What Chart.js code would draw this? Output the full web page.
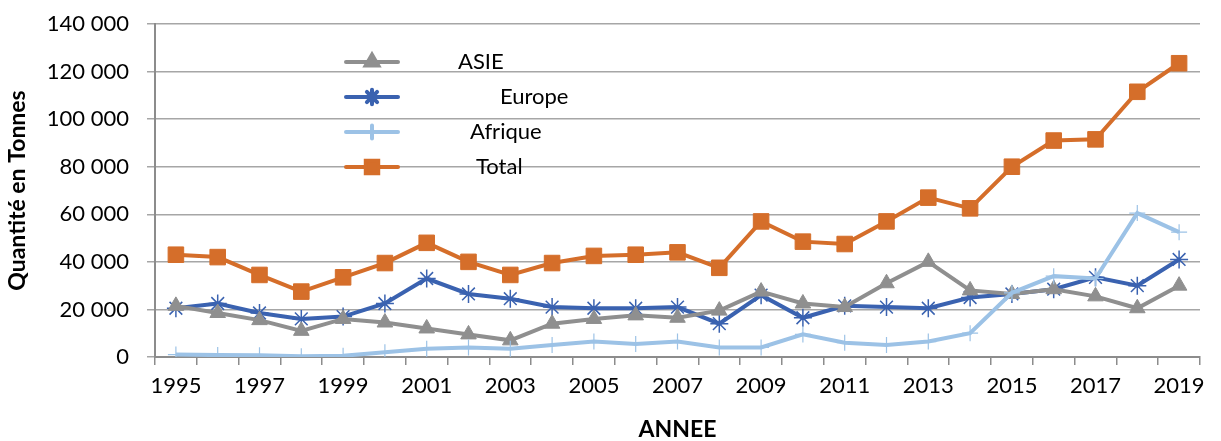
<!DOCTYPE html>
<html><head><meta charset="utf-8">
<script src="https://cdn.jsdelivr.net/npm/chart.js@4"></script>
<style>html,body{margin:0;padding:0;background:#fff}#w{width:1221px;height:441px;position:relative}</style>
</head><body><div id="w"><canvas id="c"></canvas></div>
<script>
const years = ['1995','1996','1997','1998','1999','2000','2001','2002','2003','2004','2005','2006','2007','2008','2009','2010','2011','2012','2013','2014','2015','2016','2017','2018','2019'];
const asie = [21500,18500,15500,11000,16000,14500,12000,9500,7000,14000,16000,17500,16500,19500,27500,22500,21000,31000,40000,28000,26500,28500,25500,20500,30000];
const europe = [20500,22500,18500,16000,17000,22500,33000,26500,24500,21000,20500,20500,21000,14000,26000,16500,21500,21000,20500,25000,26500,28500,33500,30000,41000];
const afrique = [1000,800,700,300,500,2000,3500,4000,3500,5000,6500,5500,6500,4000,4000,9500,6000,5000,6500,10000,27000,34000,33000,60500,52500];
const total = [43000,42000,34500,27500,33500,39500,48000,40000,34500,39500,42500,43000,44000,37500,57000,48500,47500,57000,67000,62500,80000,91000,91500,111500,123500];
const seriesNames = ['ASIE','Europe','Afrique','Total'];
const yTicks = [0,20000,40000,60000,80000,100000,120000,140000];

const FONT = 'Lato, "Open Sans", sans-serif';
const styles = [
  {color:'#8f8f8f', pointStyle:'triangle', radius:9, pbw:1},
  {color:'#3a62b0', pointStyle:'star', radius:9, pbw:1.5},
  {color:'#9cc2e6', pointStyle:'cross', radius:8, pbw:1.2},
  {color:'#d56e2a', pointStyle:'rect', radius:11, pbw:1}
];
const legendTextX = [458, 500, 470, 476];
const legendY = [62, 97, 132, 167];

const legendPlugin = {
  id:'customLegend',
  afterDraw(chart){
    const ctx = chart.ctx;
    ctx.save();
    chart.data.datasets.forEach((ds,i)=>{
      const y = legendY[i];
      ctx.strokeStyle = ds.borderColor;
      ctx.lineWidth = 4;
      ctx.lineCap = 'round';
      ctx.beginPath(); ctx.moveTo(346,y); ctx.lineTo(398,y); ctx.stroke();
      const st = styles[i];
      ctx.fillStyle = ds.borderColor; ctx.strokeStyle = ds.borderColor;
      Chart.helpers.drawPoint(ctx, {pointStyle:st.pointStyle, radius:st.radius*0.8, borderWidth:st.pbw, rotation:0}, 372, y);
      ctx.fillStyle = '#000';
      ctx.font = '22px ' + FONT;
      ctx.textBaseline = 'middle';
      ctx.textAlign = 'left';
      ctx.fillText(ds.label, legendTextX[i], y);
    });
    ctx.restore();
  }
};

const data = {
  labels: years,
  datasets: [asie, europe, afrique, total].map((d,i)=>({
    label: seriesNames[i],
    data: d,
    borderColor: styles[i].color,
    backgroundColor: styles[i].color,
    pointBackgroundColor: styles[i].color,
    pointBorderColor: styles[i].color,
    pointStyle: styles[i].pointStyle,
    pointRadius: styles[i].radius,
    pointBorderWidth: styles[i].pbw,
    borderWidth: 4,
    tension: 0,
    order: [2,3,1,0][i]
  }))
};

new Chart(document.getElementById('c'), {
  type:'line',
  data,
  plugins:[legendPlugin],
  options:{
    responsive:true, maintainAspectRatio:false, animation:false,
    layout:{padding:{top:24,right:21,left:0,bottom:0}},
    plugins:{legend:{display:false}, tooltip:{enabled:false}},
    scales:{
      x:{
        offset:true,
        grid:{offset:true, drawOnChartArea:false, drawTicks:true, tickLength:8, color:'#8c8c8c', lineWidth:1.5},
        border:{display:true, color:'#8c8c8c', width:2},
        ticks:{autoSkip:false, maxRotation:0, padding:8, color:'#000', font:{family:FONT, size:22},
          callback:function(v,i){return i%2===0 ? years[i] : '';}},
        title:{display:true, text:'ANNEE', color:'#000', font:{family:FONT, size:23, weight:'bold', lineHeight:1}, padding:{top:0,bottom:0}},
        afterFit(s){s.height = 84; s.paddingLeft = 0; s.paddingRight = 0;}
      },
      y:{
        min:0, max:140000,
        afterBuildTicks(s){ s.ticks = yTicks.map(v=>({value:v})); },
        grid:{color:'#a6a6a6', lineWidth:1.5, tickLength:8, drawTicks:true},
        border:{display:true, color:'#8c8c8c', width:2},
        ticks:{color:'#000', padding:18, font:{family:FONT, size:22},
          callback:v=>v===0?'0':String(v).replace(/\B(?=(\d{3})+(?!\d))/g,' ')},
        title:{display:true, text:'Quantité en Tonnes', color:'#000', font:{family:FONT, size:23, weight:'bold', lineHeight:1}, padding:{top:6,bottom:0}},
        afterFit(s){s.width = 155; s.paddingTop = 0; s.paddingBottom = 0;}
      }
    }
  }
});
</script></body></html>
